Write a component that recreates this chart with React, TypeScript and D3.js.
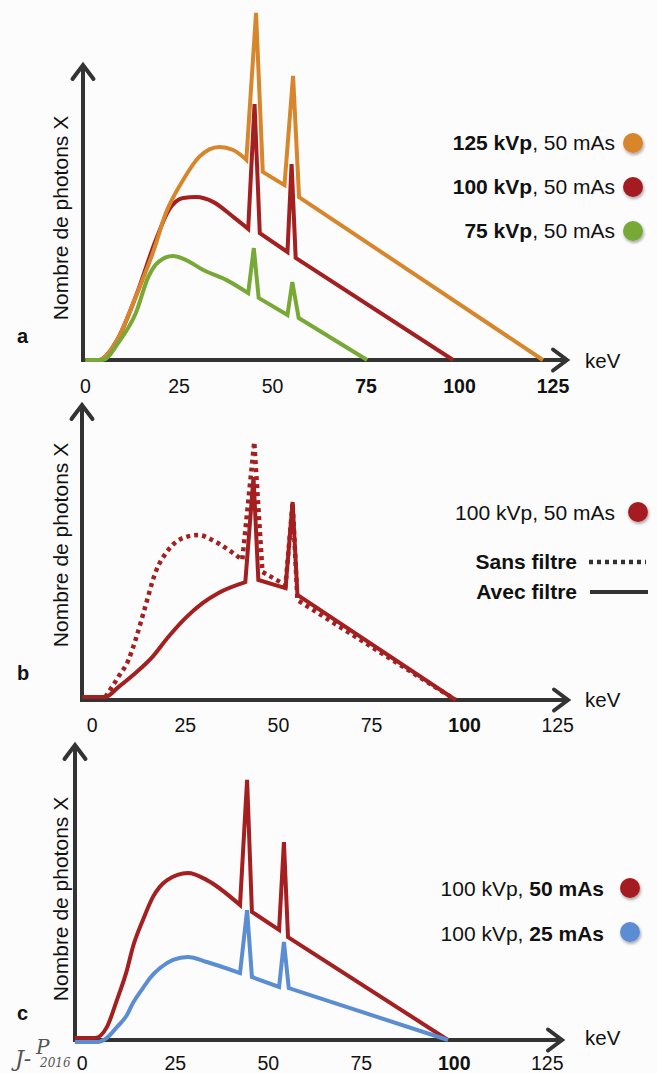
import React from 'react';
import * as d3 from 'd3';

type P = [number, number];

// ---------- DATA ----------
const tickValues = [0, 25, 50, 75, 100, 125];
const boldTicksA = [75, 100, 125];
const boldTicksB = [100];
const boldTicksC = [100];

// Panel a : three tube voltages (keV, relative photon count)
const a125: P[] = [[0, 0], [3.5, 0], [8.9, 7.7], [13.4, 21], [18, 35.7], [21.5, 49], [26.1, 60], [30.4, 67.7], [35.8, 71], [39.5, 70], [43, 66.7],
  [45.6, 115.7], [47.4, 62.7], [53.2, 58.3], [55.5, 94.7], [57.1, 54.3], [122.3, 0]];
const a125SmoothEnd = 43;
const a100: P[] = [[0, 0], [3.5, 0], [8.9, 7.7], [13.4, 21], [18.8, 40], [22.3, 50], [26.1, 54], [29.6, 54.3], [34.1, 52.7], [39.5, 47.7], [43.5, 43.7],
  [45.2, 85.3], [46.6, 42.3], [54, 36], [55.1, 65.3], [56.2, 34], [98.3, 0]];
const a100SmoothEnd = 43.5;
const a75: P[] = [[0, 0], [4.6, 0], [8.9, 6], [13.4, 15.5], [16.9, 28], [19.6, 32.8], [23.4, 34.7], [26.9, 33.3], [31.5, 30], [37.6, 26.7], [43.5, 22.3],
  [45, 37.3], [46.3, 20.7], [54, 15], [55.3, 26], [57, 14], [75.3, 0]];
const a75SmoothEnd = 43.5;

// Panel b : with / without filter
const bAvec: P[] = [[-2.7, 1], [3.5, 1], [7, 4.3], [11.6, 9], [16.1, 14.3], [20.4, 21], [25, 27.3], [29.6, 32.3], [33.9, 35.7], [41.1, 39.3],
  [43.3, 74.3], [44.6, 40], [51.9, 37.3], [53.8, 66], [55.1, 35], [97.6, 0]];
const bAvecSmoothEnd = 41.1;
const bSans: P[] = [[3.5, 1], [7, 7.7], [9.7, 13.3], [11.6, 20], [14.2, 31], [16.9, 42.3], [20.4, 50], [25, 54.3], [28.5, 55], [32.3, 53.3], [36.6, 50], [40.3, 46.7],
  [43.5, 86], [45.7, 42.7], [51.9, 38.3], [53.8, 65.7], [55.1, 33.3], [97.6, 0]];
const bSansSmoothEnd = 40.3;

// Panel c : 50 mAs vs 25 mAs
const c50: P[] = [[-2, 0.7], [3.4, 0.7], [6.6, 4.3], [9.3, 13.3], [12, 23.3], [13.6, 31], [16.3, 40], [19, 47.7], [22.8, 53.3], [28.4, 55.7], [33.5, 53.3], [42.4, 45],
  [44.3, 86.7], [45.6, 42.7], [52.9, 36.7], [54.2, 66], [55.3, 34.3], [98.3, 0]];
const c50SmoothEnd = 42.4;
const c25: P[] = [[-2, -0.7], [4, -0.7], [6.6, 0.7], [9.3, 4.3], [12, 8.3], [13.6, 12.3], [16.3, 17.3], [18.2, 20.7], [20.9, 24], [24.4, 26.7], [28.4, 27.7], [33.5, 26], [42.4, 22.3],
  [44.3, 43.3], [45.6, 21], [52.9, 17.7], [54.2, 32.7], [55.5, 17.3], [98.3, 0]];
const c25SmoothEnd = 42.4;

const legendA = [
  { bold: '125 kVp', rest: ', 50 mAs', color: '#d8862b' },
  { bold: '100 kVp', rest: ', 50 mAs', color: '#a41f20' },
  { bold: '75 kVp', rest: ', 50 mAs', color: '#78a836' },
];
const legendC = [
  { pre: '100 kVp, ', bold: '50 mAs', color: '#a41f20' },
  { pre: '100 kVp, ', bold: '25 mAs', color: '#5b8dd3' },
];

// ---------- STYLE / LAYOUT ----------
const W = 657, H = 1073;
const FONT = '"Liberation Sans", Arial, Helvetica, sans-serif';
const AXIS = '#333333';
const ORANGE = '#d8862b', RED = '#a41f20', GREEN = '#78a836', BLUE = '#5b8dd3';

interface Panel { x0: number; slope: number; axisX: number; base: number; tip: number; tickY: number; kevY: number; labelCy: number; letter: string; letterY: number; }
const PA: Panel = { x0: 85.5, slope: 3.74, axisX: 83, base: 360, tip: 567, tickY: 393, kevY: 368, labelCy: 218, letter: 'a', letterY: 343 };
const PB: Panel = { x0: 92.3, slope: 3.723, axisX: 82, base: 700, tip: 568, tickY: 732, kevY: 707, labelCy: 545, letter: 'b', letterY: 680 };
const PC: Panel = { x0: 82.3, slope: 3.72, axisX: 75, base: 1040, tip: 562, tickY: 1070, kevY: 1045, labelCy: 899, letter: 'c', letterY: 1020 };

function scales(p: Panel) {
  const x = d3.scaleLinear().domain([0, 125]).range([p.x0, p.x0 + 125 * p.slope]);
  const y = d3.scaleLinear().domain([0, 100]).range([p.base, p.base - 300]);
  return { x, y };
}

function spectrumPath(pts: P[], smoothEnd: number, x: d3.ScaleLinear<number, number>, y: d3.ScaleLinear<number, number>) {
  const smooth = pts.filter(d => d[0] <= smoothEnd);
  const lin = pts.filter(d => d[0] >= smoothEnd);
  const ls = d3.line<P>().x(d => x(d[0])).y(d => y(d[1])).curve(d3.curveMonotoneX);
  const ll = d3.line<P>().x(d => x(d[0])).y(d => y(d[1]));
  return (ls(smooth) || '') + (ll(lin) || '').replace(/^M/, 'L');
}

function Axes({ p, bold }: { p: Panel; bold: number[] }) {
  const { x } = scales(p);
  const top = p.base - 295;
  return (
    <g>
      <line x1={p.axisX - 2} x2={p.tip} y1={p.base} y2={p.base} stroke={AXIS} strokeWidth={4} />
      <line x1={p.axisX} x2={p.axisX} y1={p.base + 2} y2={top} stroke={AXIS} strokeWidth={4} />
      <path d={`M${p.tip - 14},${p.base - 10.5}L${p.tip},${p.base}L${p.tip - 14},${p.base + 10.5}`} fill="none" stroke={AXIS} strokeWidth={4} strokeLinecap="round" />
      <path d={`M${p.axisX - 10.5},${top + 14}L${p.axisX},${top}L${p.axisX + 10.5},${top + 14}`} fill="none" stroke={AXIS} strokeWidth={4} strokeLinecap="round" />
      {tickValues.map(t => (
        <text key={t} x={x(t)} y={p.tickY} textAnchor="middle" fontSize={19.5} fontWeight={bold.includes(t) ? 'bold' : 'normal'} fill="#111">{t}</text>
      ))}
      <text x={585} y={p.kevY} fontSize={20.5} fill="#111">keV</text>
      <text transform={`translate(68,${p.labelCy}) rotate(-90)`} textAnchor="middle" fontSize={21} fill="#111">Nombre de photons X</text>
      <text x={17} y={p.letterY} fontSize={20} fontWeight="bold" fill="#111">{p.letter}</text>
    </g>
  );
}

function Dot({ cx, cy, color }: { cx: number; cy: number; color: string }) {
  return <circle cx={cx} cy={cy} r={10} fill={color} filter="url(#sh)" />;
}

export default function App() {
  const sa = scales(PA), sb = scales(PB), sc = scales(PC);
  const lineProps = { fill: 'none', strokeWidth: 4, strokeLinejoin: 'miter' as const, strokeMiterlimit: 4 };
  return (
    <svg width={W} height={H} viewBox={`0 0 ${W} ${H}`} style={{ position: 'absolute', left: 0, top: 0, fontFamily: FONT }}>
      <defs>
        <filter id="sh" x="-50%" y="-50%" width="200%" height="200%">
          <feDropShadow dx={1} dy={2} stdDeviation={1.4} floodColor="#000" floodOpacity={0.35} />
        </filter>
      </defs>
      <rect width={W} height={H} fill="#fcfcfc" />

      {/* Panel a */}
      <Axes p={PA} bold={boldTicksA} />
      <path d={spectrumPath(a100, a100SmoothEnd, sa.x, sa.y)} stroke={RED} {...lineProps} />
      <path d={spectrumPath(a125, a125SmoothEnd, sa.x, sa.y)} stroke={ORANGE} {...lineProps} />
      <path d={spectrumPath(a75, a75SmoothEnd, sa.x, sa.y)} stroke={GREEN} {...lineProps} />
      {legendA.map((l, i) => (
        <g key={i}>
          <text x={615} y={150 + i * 44} textAnchor="end" fontSize={21} fill="#111">
            <tspan fontWeight="bold">{l.bold}</tspan><tspan>{l.rest}</tspan>
          </text>
          <Dot cx={633} cy={143 + i * 44} color={l.color} />
        </g>
      ))}

      {/* Panel b */}
      <Axes p={PB} bold={boldTicksB} />
      <path d={spectrumPath(bSans, bSansSmoothEnd, sb.x, sb.y)} stroke={RED} {...lineProps} strokeWidth={4.5} strokeDasharray="4 4" />
      <path d={spectrumPath(bAvec, bAvecSmoothEnd, sb.x, sb.y)} stroke={RED} {...lineProps} />
      <text x={615} y={520} textAnchor="end" fontSize={21} fill="#111">100 kVp, 50 mAs</text>
      <Dot cx={638} cy={512} color={RED} />
      <text x={577} y={569} textAnchor="end" fontSize={21} fontWeight="bold" fill="#111">Sans filtre</text>
      <line x1={589} x2={646} y1={562} y2={562} stroke={AXIS} strokeWidth={4.5} strokeDasharray="4 4" />
      <text x={577} y={599} textAnchor="end" fontSize={21} fontWeight="bold" fill="#111">Avec filtre</text>
      <line x1={590} x2={648} y1={592} y2={592} stroke={AXIS} strokeWidth={4} />

      {/* Panel c */}
      <Axes p={PC} bold={boldTicksC} />
      <path d={spectrumPath(c50, c50SmoothEnd, sc.x, sc.y)} stroke={RED} {...lineProps} />
      <path d={spectrumPath(c25, c25SmoothEnd, sc.x, sc.y)} stroke={BLUE} {...lineProps} />
      {legendC.map((l, i) => (
        <g key={i}>
          <text x={604} y={896 + i * 45} textAnchor="end" fontSize={21} fill="#111">
            <tspan>{l.pre}</tspan><tspan fontWeight="bold">{l.bold}</tspan>
          </text>
          <Dot cx={630} cy={888 + i * 44} color={l.color} />
        </g>
      ))}

      {/* signature */}
      <g fill="#555" fontFamily='"DejaVu Serif", "Liberation Serif", serif' fontStyle="italic">
        <text x={15} y={1066} fontSize={22}>J-</text>
        <text x={36} y={1054} fontSize={20}>P</text>
        <text x={40} y={1067} fontSize={12}>2016</text>
      </g>
    </svg>
  );
}
